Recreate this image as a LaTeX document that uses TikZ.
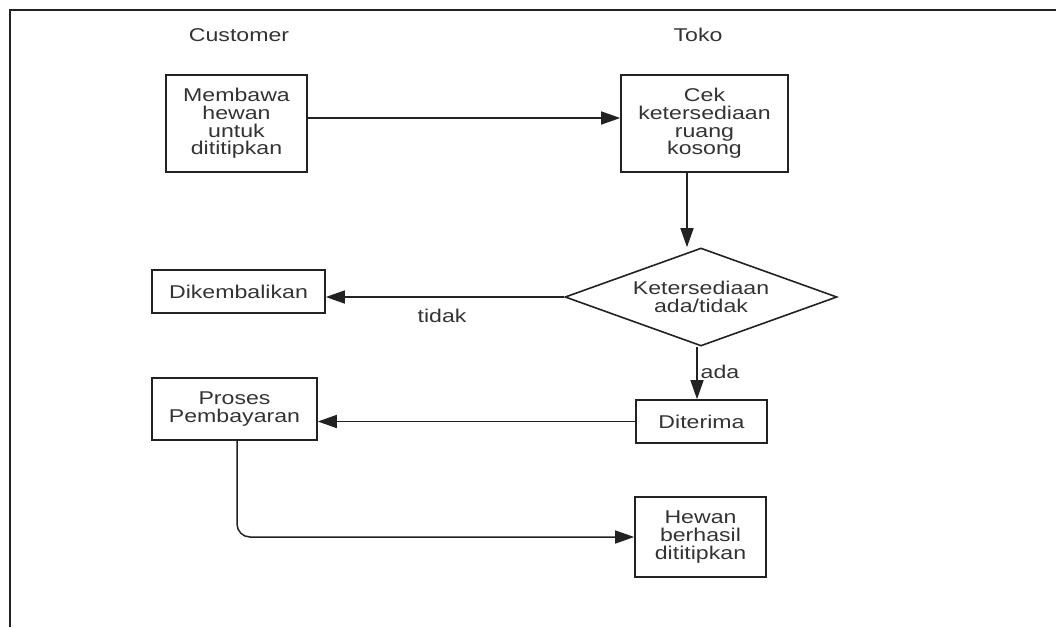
\documentclass[tikz,border=0pt]{standalone}
\usepackage{fontspec}
\setmainfont[FakeStretch=1.25]{Liberation Sans}
\usetikzlibrary{arrows.meta,shapes.geometric}
\definecolor{txt}{HTML}{333333}
\definecolor{ln}{HTML}{222222}
\begin{document}
\begin{tikzpicture}[x=1pt,y=-1pt,
  every node/.style={font=\fontsize{18.5}{17.7}\selectfont, text=txt, align=center},
  box/.style={draw=ln, line width=1.6pt, inner sep=0pt},
  arr/.style={draw=ln, line width=1.5pt, -{Triangle[length=19pt,width=13pt]}},
]
\useasboundingbox (0,0) rectangle (1056,627);
\draw[ln, line width=1.8pt] (1056,10) -- (10,10) -- (10,627);

\node (cust) at (239,35) {Customer};
\node (toko) at (698,35) {Toko};

\node[box, minimum width=141pt, minimum height=97pt] (b1) at (236.5,123.5) {Membawa\\hewan\\untuk\\dititipkan};
\node[box, minimum width=167pt, minimum height=97pt] (b2) at (704.5,123.5) {Cek\\ketersediaan\\ruang\\kosong};
\node[box, diamond, aspect=2.78, minimum width=272pt, minimum height=98pt] (d) at (701,297) {Ketersediaan\\ada/tidak};
\node[box, minimum width=173pt, minimum height=43pt] (dk) at (238.5,291.5) {Dikembalikan};
\node[box, minimum width=165pt, minimum height=62pt] (pr) at (234.5,409) {Proses\\Pembayaran};
\node[box, minimum width=131pt, minimum height=43pt] (dt) at (701.5,421.5) {Diterima};
\node[box, minimum width=131pt, minimum height=80pt] (hw) at (700.5,537) {Hewan\\berhasil\\dititipkan};

\draw[arr] ([yshift=5.5pt]b1.east) -- ([yshift=5.5pt]b2.west);
\draw[arr] ([xshift=-17.5pt]b2.south) -- ([xshift=-17.5pt]b2.south |- d.north);
\draw[arr] (d.west) -- (d.west -| dk.east);
\draw[arr] ([xshift=-4pt]d.south) -- ([xshift=-4pt]d.south |- dt.north);
\draw[arr] (dt.west) -- (dt.west -| pr.east);
\draw[arr, rounded corners=13pt] ([xshift=2.5pt]pr.south) |- (hw.west);

\node (tidak) at (442,316) {tidak};
\node (ada) at (720,372) {ada};
\end{tikzpicture}
\end{document}
